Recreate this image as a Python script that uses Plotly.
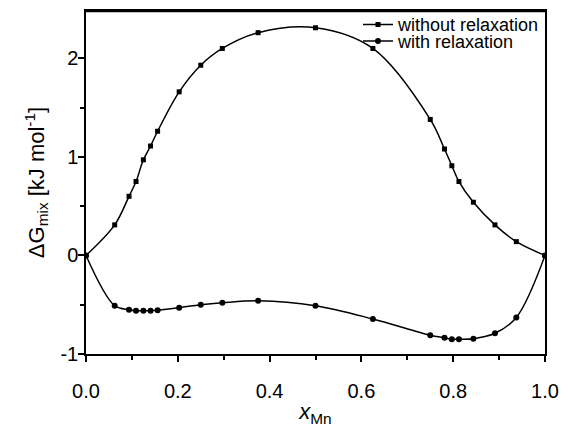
import plotly.graph_objects as go

# without relaxation (squares)
x_wo = [0.0, 0.0625, 0.09375, 0.109, 0.125, 0.1406, 0.156, 0.203, 0.25, 0.297, 0.375, 0.5,
        0.625, 0.75, 0.781, 0.797, 0.8125, 0.844, 0.891, 0.9375, 1.0]
y_wo = [0.0, 0.31, 0.60, 0.75, 0.97, 1.11, 1.26, 1.66, 1.93, 2.10, 2.26, 2.31,
        2.10, 1.38, 1.08, 0.91, 0.75, 0.54, 0.31, 0.14, 0.0]

# with relaxation (circles)
x_w = [0.0, 0.0625, 0.09375, 0.109, 0.125, 0.1406, 0.156, 0.203, 0.25, 0.297, 0.375, 0.5,
       0.625, 0.75, 0.781, 0.797, 0.8125, 0.844, 0.891, 0.9375, 1.0]
y_w = [0.0, -0.51, -0.55, -0.56, -0.56, -0.56, -0.555, -0.53, -0.50, -0.48, -0.46, -0.51,
       -0.645, -0.81, -0.835, -0.85, -0.85, -0.845, -0.79, -0.63, 0.0]

x_tickvals = [0.0, 0.2, 0.4, 0.6, 0.8, 1.0]
x_ticktext = ["0.0", "0.2", "0.4", "0.6", "0.8", "1.0"]
y_tickvals = [-1, 0, 1, 2]
y_ticktext = ["-1", "0", "1", "2"]

FONT = "Liberation Sans, Arial, sans-serif"

fig = go.Figure()
fig.add_trace(go.Scatter(
    x=x_wo, y=y_wo, mode="lines+markers", name="without relaxation",
    line=dict(color="black", width=1.5, shape="spline"),
    marker=dict(symbol="square", size=5, color="black"),
    legend="legend",
))
fig.add_trace(go.Scatter(
    x=x_w, y=y_w, mode="lines+markers", name="with relaxation",
    line=dict(color="black", width=1.5, shape="spline"),
    marker=dict(symbol="circle", size=6, color="black"),
    legend="legend2",
))

axis_common = dict(
    showgrid=False, zeroline=False, showline=True, linecolor="black", linewidth=1.5,
    mirror=True, ticks="outside", tickcolor="black", tickwidth=1.5, ticklen=6,
    tickfont=dict(family=FONT, size=20, color="black"),
)

fig.update_xaxes(
    range=[0, 1], tickvals=x_tickvals, ticktext=x_ticktext,
    minor=dict(ticks="outside", ticklen=4, tickwidth=1.5, tickcolor="black", dtick=0.1, tick0=0),
    ticklabelstandoff=12,
    title=dict(text="<i>x</i><sub>Mn</sub>", font=dict(family=FONT, size=22, color="black"), standoff=3),
    **axis_common,
)
fig.update_yaxes(
    range=[-1, 2.48], tickvals=y_tickvals, ticktext=y_ticktext,
    minor=dict(ticks="outside", ticklen=4, tickwidth=1.5, tickcolor="black", dtick=0.5, tick0=0),
    ticklabelstandoff=-4,
    title=dict(text="ΔG<sub>mix</sub> [kJ mol<sup>-1</sup>]", font=dict(family=FONT, size=22, color="black"), standoff=10),
    **axis_common,
)

legend_common = dict(
    font=dict(family=FONT, size=18, color="black"),
    bgcolor="rgba(0,0,0,0)", borderwidth=0, xanchor="left", yanchor="middle",
    itemwidth=30, tracegroupgap=0,
)
# page body has an 8px default margin, so the figure is sized/margined to compensate
fig.update_layout(
    width=562, height=420,
    margin=dict(l=78, r=25, t=3, b=74, autoexpand=False),
    paper_bgcolor="white", plot_bgcolor="white",
    font=dict(family=FONT, color="black"),
    showlegend=True,
    legend=dict(x=0.5926, y=0.960, **legend_common),
    legend2=dict(x=0.5926, y=0.912, **legend_common),
    shapes=[dict(type="line", xref="paper", yref="paper", x0=0, x1=1, y0=1, y1=1,
                 line=dict(color="black", width=2.5))],
)

fig.write_html("out.html")
